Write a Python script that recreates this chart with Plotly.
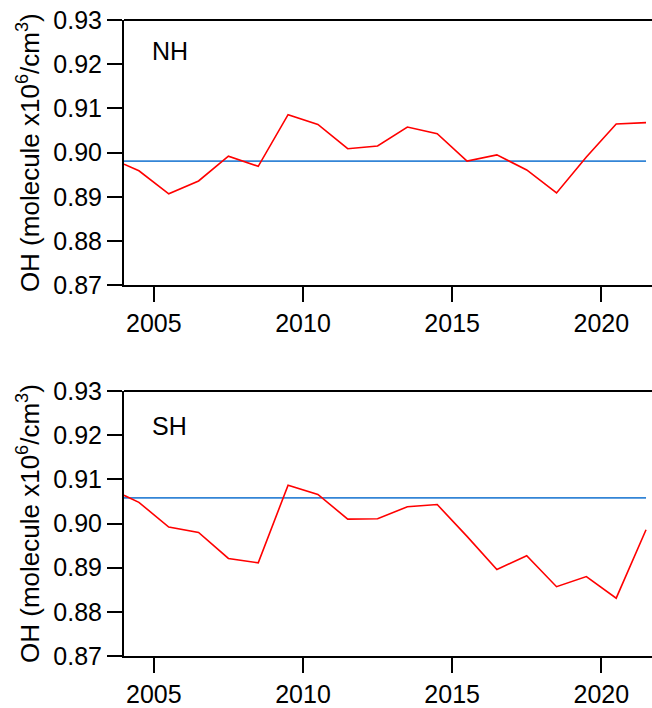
import plotly.graph_objects as go

years = [2004.0, 2004.5, 2005.5, 2006.5, 2007.5, 2008.5, 2009.5, 2010.5, 2011.5,
         2012.5, 2013.5, 2014.5, 2015.5, 2016.5, 2017.5, 2018.5, 2019.5, 2020.5, 2021.5]
nh_oh = [0.8974, 0.8959, 0.8907, 0.8936, 0.8992, 0.8969, 0.9086, 0.9064, 0.9009,
         0.9015, 0.9058, 0.9043, 0.8981, 0.8995, 0.8961, 0.8909, 0.8990, 0.9065, 0.9068]
sh_oh = [0.9064, 0.9048, 0.8992, 0.8980, 0.8921, 0.8911, 0.9087, 0.9066, 0.9010,
         0.9011, 0.9038, 0.9043, 0.8971, 0.8896, 0.8927, 0.8857, 0.8880, 0.8831, 0.8986]
nh_mean = 0.8981
sh_mean = 0.9058
panel_labels = ["NH", "SH"]
x_ticks = [2005, 2010, 2015, 2020]
y_ticks = [0.87, 0.88, 0.89, 0.90, 0.91, 0.92, 0.93]
y_tick_text = ["0.87", "0.88", "0.89", "0.90", "0.91", "0.92", "0.93"]

RED = "#FF0000"
BLUE = "#3385D6"
FONT = "Liberation Sans, Arial, sans-serif"
FS = 25

fig = go.Figure()
for i, (series, mean) in enumerate([(nh_oh, nh_mean), (sh_oh, sh_mean)]):
    xa = "x" if i == 0 else "x2"
    ya = "y" if i == 0 else "y2"
    fig.add_trace(go.Scatter(x=[years[0], years[-1]], y=[mean, mean], mode="lines",
                             line=dict(color=BLUE, width=1.7), xaxis=xa, yaxis=ya,
                             showlegend=False, hoverinfo="skip"))
    fig.add_trace(go.Scatter(x=years, y=series, mode="lines",
                             line=dict(color=RED, width=1.6), xaxis=xa, yaxis=ya,
                             showlegend=False))

axis_common = dict(showgrid=False, zeroline=False, showline=True, linecolor="black",
                   linewidth=2, ticks="outside", ticklen=15, tickwidth=1.5,
                   tickcolor="black", tickfont=dict(family=FONT, size=FS, color="black"))

title_text = "OH (molecule x10<sup>6</sup>/cm<sup>3</sup>)"
xr = [2004.0, 2021.7]
yr = [0.87, 0.93]

fig.update_layout(
    width=652, height=708,
    margin=dict(l=124, r=0, t=20, b=44),
    plot_bgcolor="white", paper_bgcolor="white",
    font=dict(family=FONT, size=FS, color="black"),
    xaxis=dict(domain=[0, 1], range=xr, tickvals=x_ticks, anchor="y", **axis_common),
    yaxis=dict(domain=[0.5828, 1.0], range=yr, tickvals=y_ticks, ticktext=y_tick_text,
               anchor="x", title=dict(text=title_text, font=dict(family=FONT, size=26), standoff=6),
               **axis_common),
    xaxis2=dict(domain=[0, 1], range=xr, tickvals=x_ticks, anchor="y2", **axis_common),
    yaxis2=dict(domain=[0.0, 0.4165], range=yr, tickvals=y_ticks, ticktext=y_tick_text,
                anchor="x2", title=dict(text=title_text, font=dict(family=FONT, size=26), standoff=6),
                **axis_common),
)

# top border lines of each panel
for xr_, yr_ in [("x domain", "y domain"), ("x2 domain", "y2 domain")]:
    fig.add_shape(type="line", xref=xr_, yref=yr_, x0=0, x1=1, y0=1, y1=1,
                  line=dict(color="black", width=2))

fig.add_annotation(text=panel_labels[0], xref="x domain", yref="y domain", x=0.049, y=0.885,
                   xanchor="left", yanchor="middle", showarrow=False,
                   font=dict(family=FONT, size=FS, color="black"))
fig.add_annotation(text=panel_labels[1], xref="x2 domain", yref="y2 domain", x=0.049, y=0.8675,
                   xanchor="left", yanchor="middle", showarrow=False,
                   font=dict(family=FONT, size=FS, color="black"))

fig.write_html("out.html", config={"displayModeBar": False},
               post_script="document.body.style.margin='0px';document.body.style.overflow='hidden';")
